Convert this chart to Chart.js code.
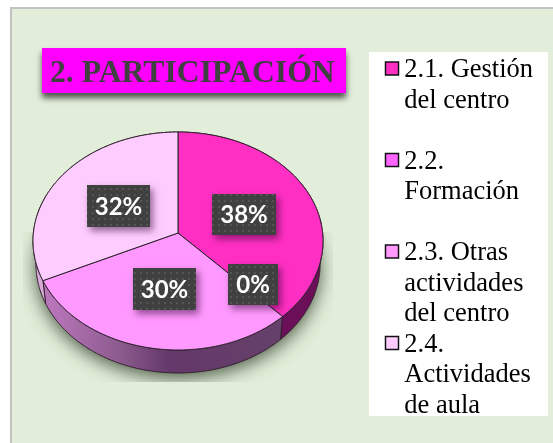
<!DOCTYPE html>
<html lang="es">
<head>
<meta charset="utf-8">
<style>html,body{margin:0;padding:0;background:#fff}canvas{display:block}</style>
<script src="https://cdn.jsdelivr.net/npm/chart.js@4/dist/chart.umd.js"></script>
</head>
<body>
<canvas id="c" width="553" height="443"></canvas>
<script>
const titleText = "2. PARTICIPACIÓN";
const categories = ["2.1. Gestión del centro", "2.2. Formación", "2.3. Otras actividades del centro", "2.4. Actividades de aula"];
const legendLines = [["2.1. Gestión", "del centro", ""], ["2.2.", "Formación", ""], ["2.3. Otras", "actividades", "del centro"], ["2.4.", "Actividades", "de aula"]];
const values = [38, 0, 30, 32];
const sliceColors = ["#ff2fc3", "#ff66ff", "#ff99ff", "#ffccff"];

// Layout and style, separate from the data
const PIE = {cx: 178, cy: 233, a: 144.6, b: 108.4, k: 0.0734, depth: 23, inset: 0.98};
const labelBoxes = [[212, 194, 64, 41], [228, 264, 50, 41], [133, 268, 63, 42], [87, 185, 63, 42]];

function proj(theta) {
  const u = Math.cos(theta), v = Math.sin(theta), d = 1 - PIE.k * v;
  return {x: PIE.cx + PIE.a * u / d, y: PIE.cy + PIE.b * v / d};
}
function low(p) {
  return {x: PIE.cx + (p.x - PIE.cx) * PIE.inset, y: p.y + PIE.depth};
}
function samples(s, e) {
  const n = Math.max(2, Math.ceil((e - s) / 0.01)), out = [];
  for (let i = 0; i <= n; i++) out.push(proj(s + (e - s) * i / n));
  return out;
}
function trace(ctx, pts) {
  ctx.beginPath();
  pts.forEach((p, i) => i ? ctx.lineTo(p.x, p.y) : ctx.moveTo(p.x, p.y));
  ctx.closePath();
}
function wallFill(ctx, i) {
  if (i === 2) {
    const g = ctx.createLinearGradient(45, 0, 283, 0);
    g.addColorStop(0, "#bd78bd");
    g.addColorStop(0.32, "#8b5a8d");
    g.addColorStop(0.52, "#64386a");
    g.addColorStop(1, "#65416a");
    return g;
  }
  if (i === 3) return "#d8a9d8";
  return "#6a0f58";
}
function dotPattern(ctx) {
  const t = document.createElement("canvas");
  t.width = 6; t.height = 6;
  const c = t.getContext("2d");
  c.fillStyle = "#404040"; c.fillRect(0, 0, 6, 6);
  c.fillStyle = "#545454"; c.fillRect(2, 2, 2, 2);
  return ctx.createPattern(t, "repeat");
}

const scene = {
  id: "scene",
  afterLayout(chart) {
    const t = chart.titleBlock, l = chart.legend;
    t.left = 50; t.right = 346; t.top = 55; t.bottom = 95; t.width = 296;
    l.left = 391; l.right = 548; l.top = 57; l.bottom = 443; l.width = 157;
  },
  beforeDraw(chart) {
    const ctx = chart.ctx;
    ctx.save();
    ctx.fillStyle = "#c2c2c2"; ctx.fillRect(10, 7, 543, 436);
    ctx.fillStyle = "#e2eed9"; ctx.fillRect(12, 9, 541, 434);
    ctx.fillStyle = "#ffffff"; ctx.fillRect(369, 52, 179, 364);
    ctx.shadowColor = "rgba(0,0,0,0.65)"; ctx.shadowBlur = 6; ctx.shadowOffsetY = 5; ctx.shadowOffsetX = 0;
    ctx.fillStyle = "#ff00ff"; ctx.fillRect(42, 48, 304, 45);
    ctx.restore();
  },
  beforeDatasetDraw(chart, args) {
    const ctx = chart.ctx, arcs = chart.getDatasetMeta(args.index).data;
    const full = samples(-Math.PI / 2, Math.PI * 1.5);
    ctx.save();
    // soft ground shadow
    ctx.save();
    ctx.beginPath(); ctx.rect(23, 232, 310, 150); ctx.clip();
    ctx.shadowColor = "rgba(50,65,45,0.85)"; ctx.shadowBlur = 18; ctx.shadowOffsetY = 5;
    ctx.fillStyle = "#7f8f77";
    trace(ctx, full.map(low)); ctx.fill();
    ctx.restore();
    ctx.lineJoin = "round";
    // side walls
    arcs.forEach((arc, i) => {
      if (arc.endAngle <= arc.startAngle) return;
      const top = samples(arc.startAngle, arc.endAngle);
      trace(ctx, top.concat(top.map(low).reverse()));
      ctx.fillStyle = wallFill(ctx, i); ctx.fill();
      ctx.strokeStyle = "#33202f"; ctx.lineWidth = 1; ctx.stroke();
    });
    // top faces
    arcs.forEach((arc, i) => {
      if (arc.endAngle <= arc.startAngle) return;
      trace(ctx, [{x: PIE.cx, y: PIE.cy}].concat(samples(arc.startAngle, arc.endAngle)));
      ctx.fillStyle = sliceColors[i]; ctx.fill();
      ctx.strokeStyle = "#2a2028"; ctx.lineWidth = 1; ctx.stroke();
    });
    ctx.restore();
    return false;
  },
  afterDatasetsDraw(chart) {
    const ctx = chart.ctx, pat = dotPattern(ctx);
    values.forEach((v, i) => {
      const [x, y, w, h] = labelBoxes[i];
      ctx.save();
      ctx.shadowColor = "rgba(40,0,40,0.5)"; ctx.shadowBlur = 7; ctx.shadowOffsetX = 3; ctx.shadowOffsetY = 4;
      ctx.fillStyle = "#404040"; ctx.fillRect(x, y, w, h);
      ctx.shadowColor = "transparent";
      ctx.fillStyle = pat; ctx.fillRect(x, y, w, h);
      ctx.fillStyle = "#ffffff"; ctx.font = "bold 24px Lato";
      ctx.textAlign = "center"; ctx.textBaseline = "middle";
      ctx.fillText(v + "%", x + w / 2, y + h / 2 + 1);
      ctx.restore();
    });
  },
  afterDraw(chart) {
    const ctx = chart.ctx, row = 30.5 * 3;
    ctx.save();
    chart.legend.legendItems.forEach((item, i) => {
      ctx.fillStyle = item.fillStyle;
      ctx.strokeStyle = "#111"; ctx.lineWidth = 1.5;
      ctx.fillRect(385.5, 62 + i * row, 13, 13);
      ctx.strokeRect(385.5, 62 + i * row, 13, 13);
    });
    ctx.restore();
  }
};

new Chart(document.getElementById("c"), {
  type: "pie",
  data: {labels: categories, datasets: [{data: values, backgroundColor: sliceColors}]},
  plugins: [scene],
  options: {
    responsive: false,
    animation: false,
    devicePixelRatio: 1,
    plugins: {
      tooltip: {enabled: false},
      title: {
        display: true, text: titleText, align: "start", color: "#404040", padding: 0,
        font: {family: "Liberation Serif", size: 31.7, weight: "bold", lineHeight: 1.2}
      },
      legend: {
        display: true, position: "right", align: "start",
        labels: {
          boxWidth: 0, boxHeight: 0, padding: 0, color: "#505050",
          font: {family: "Liberation Serif", size: 26.5, lineHeight: 1.151},
          generateLabels: () => legendLines.map((t, i) => ({text: t, fillStyle: sliceColors[i], strokeStyle: "#111", lineWidth: 1.5, hidden: false, index: i}))
        }
      }
    }
  }
});
</script>
</body>
</html>
